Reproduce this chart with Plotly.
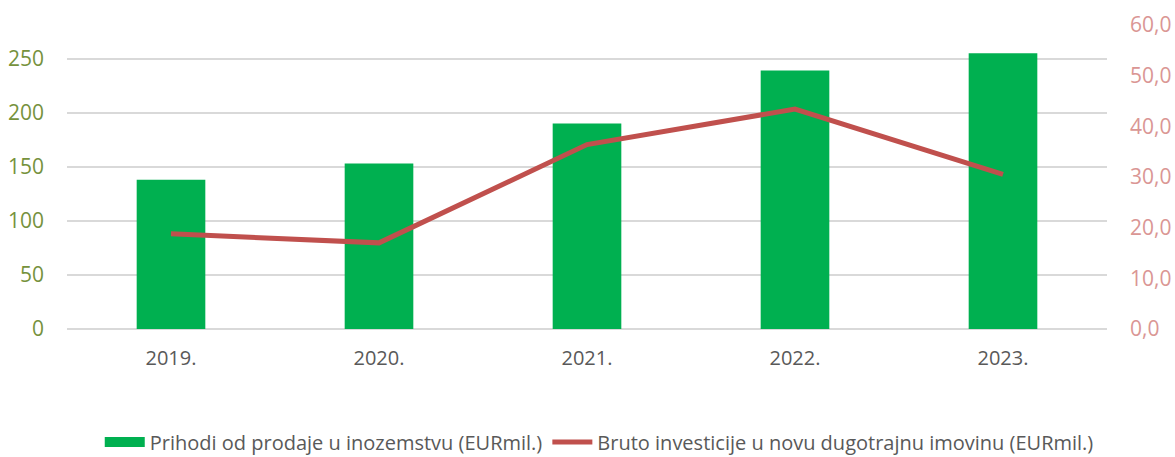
import plotly.graph_objects as go

years = ["2019.", "2020.", "2021.", "2022.", "2023."]
prihodi = [138, 153, 190, 239, 255]            # EURmil.
investicije = [18.8, 17.0, 36.4, 43.4, 30.5]   # EURmil.

left_ticks = [0, 50, 100, 150, 200, 250]
right_ticks = [0, 10, 20, 30, 40, 50, 60]

bar_name = "Prihodi od prodaje u inozemstvu (EURmil.)"
line_name = "Bruto investicije u novu dugotrajnu imovinu (EURmil.)"
font_family = "Open Sans"

fig = go.Figure()
fig.add_trace(go.Bar(
    x=years, y=prihodi, name=bar_name, showlegend=False,
    marker=dict(color="#00B050", line=dict(width=0)), width=0.33,
))
# legend key for the bars: a wide flat green block
fig.add_trace(go.Scatter(
    x=[None], y=[None], mode="lines", name=bar_name,
    line=dict(color="#00B050", width=13),
))
fig.add_trace(go.Scatter(
    x=years, y=investicije, yaxis="y2", mode="lines", name=line_name,
    line=dict(color="#C0504D", width=5),
))

fig.update_layout(
    width=1175, height=457,
    margin=dict(l=67, r=68, t=25, b=128),
    paper_bgcolor="white", plot_bgcolor="white",
    separators=", ",
    font=dict(family=font_family, color="#595959"),
    showlegend=True,
    legend=dict(
        orientation="h", xref="container", yref="container",
        x=0.51, y=0.033, xanchor="center", yanchor="middle",
        font=dict(size=20, color="#595959"), itemwidth=40,
        traceorder="normal", tracegroupgap=0,
    ),
    xaxis=dict(
        showgrid=False, showline=False, zeroline=False, automargin=False,
        tickfont=dict(size=20, color="#595959"),
        ticks="", ticklabelstandoff=15,
    ),
    yaxis=dict(
        range=[0, 281], tickvals=left_ticks, automargin=False,
        showgrid=True, gridcolor="#D9D9D9", gridwidth=1.5,
        zeroline=True, zerolinecolor="#D9D9D9", zerolinewidth=1.5,
        showline=False, ticks="", ticklabelstandoff=22,
        tickfont=dict(size=21, color="#76923C"),
    ),
    yaxis2=dict(
        range=[0, 60], tickvals=right_ticks, tickformat=".1f", automargin=False,
        overlaying="y", side="right",
        showgrid=False, zeroline=False, showline=False,
        ticks="", ticklabelstandoff=22,
        tickfont=dict(size=21, color="#DA9694"),
    ),
)

fig.write_html("out.html")
